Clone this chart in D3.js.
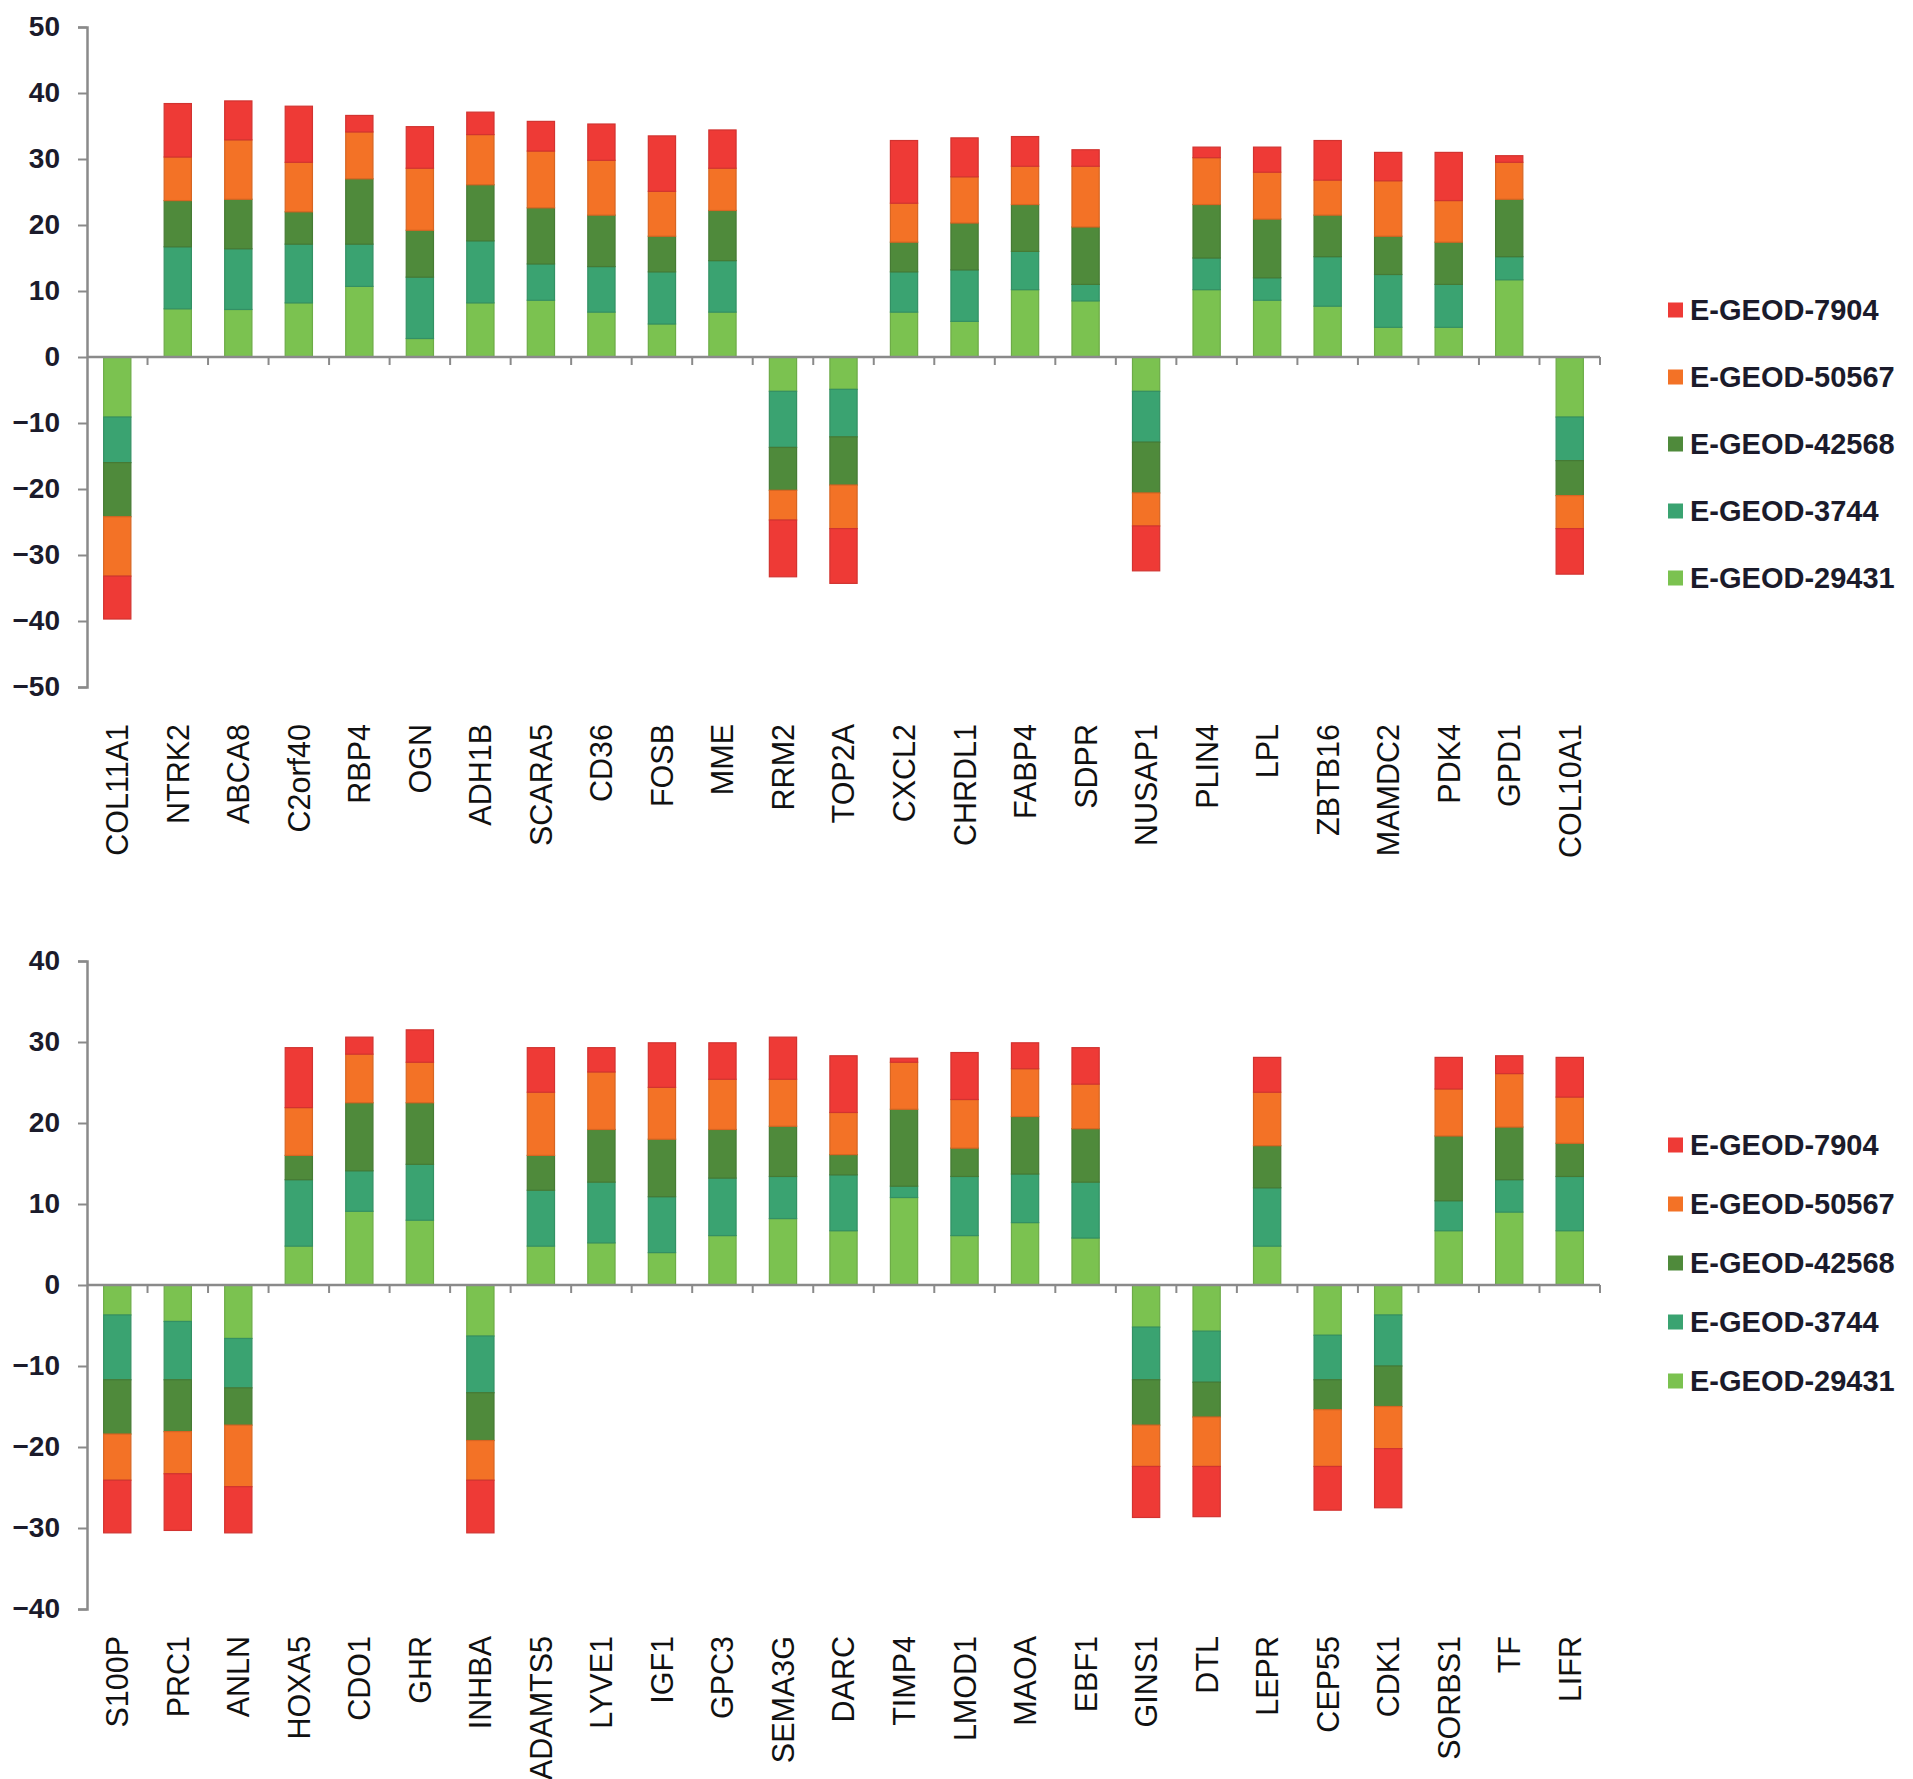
<!DOCTYPE html>
<html><head><meta charset="utf-8">
<script src="https://cdn.jsdelivr.net/npm/d3@7"></script>
<style>body{margin:0;background:#fff}svg{display:block}</style>
</head><body>
<svg id="c" width="1913" height="1779"></svg>
<script>
// ---- data ----
const seriesKeys = ["E-GEOD-29431","E-GEOD-3744","E-GEOD-42568","E-GEOD-50567","E-GEOD-7904"];
const legendOrder = ["E-GEOD-7904","E-GEOD-50567","E-GEOD-42568","E-GEOD-3744","E-GEOD-29431"];

const topGenes = ["COL11A1","NTRK2","ABCA8","C2orf40","RBP4","OGN","ADH1B","SCARA5","CD36","FOSB","MME","RRM2","TOP2A","CXCL2","CHRDL1","FABP4","SDPR","NUSAP1","PLIN4","LPL","ZBTB16","MAMDC2","PDK4","GPD1","COL10A1"];
const top29431 = [-9.1,7.3,7.2,8.2,10.7,2.8,8.2,8.6,6.8,5.0,6.8,-5.2,-4.9,6.8,5.4,10.2,8.5,-5.2,10.2,8.6,7.7,4.5,4.5,11.7,-9.1];
const top3744  = [-6.9,9.4,9.2,8.9,6.4,9.3,9.4,5.5,6.9,7.9,7.8,-8.5,-7.2,6.1,7.8,5.8,2.5,-7.7,4.8,3.4,7.5,8.0,6.5,3.5,-6.6];
const top42568 = [-8.2,7.0,7.5,4.9,9.9,7.1,8.5,8.5,7.8,5.4,7.6,-6.5,-7.3,4.5,7.1,7.1,8.7,-7.7,8.1,8.9,6.3,5.8,6.4,8.7,-5.3];
const top50567 = [-9.0,6.6,9.0,7.5,7.1,9.4,7.6,8.6,8.3,6.8,6.4,-4.5,-6.6,5.9,7.0,5.8,9.2,-5.0,7.1,7.1,5.3,8.4,6.3,5.6,-5.0];
const top7904  = [-6.5,8.1,5.9,8.5,2.5,6.3,3.4,4.5,5.5,8.4,5.8,-8.6,-8.3,9.5,5.9,4.5,2.5,-6.8,1.6,3.8,6.0,4.3,7.3,1.0,-6.9];
const topTicks = [50,40,30,20,10,0,-10,-20,-30,-40,-50];

const botGenes = ["S100P","PRC1","ANLN","HOXA5","CDO1","GHR","INHBA","ADAMTS5","LYVE1","IGF1","GPC3","SEMA3G","DARC","TIMP4","LMOD1","MAOA","EBF1","GINS1","DTL","LEPR","CEP55","CDK1","SORBS1","TF","LIFR"];
const bot29431 = [-3.7,-4.5,-6.6,4.8,9.1,8.0,-6.3,4.8,5.2,4.0,6.1,8.2,6.7,10.8,6.1,7.7,5.8,-5.2,-5.7,4.8,-6.2,-3.7,6.7,9.0,6.7];
const bot3744  = [-8.0,-7.2,-6.1,8.2,5.0,6.9,-7.0,6.9,7.5,6.9,7.1,5.2,6.9,1.4,7.3,6.0,6.9,-6.5,-6.3,7.2,-5.5,-6.3,3.7,4.0,6.7];
const bot42568 = [-6.7,-6.4,-4.6,3.0,8.4,7.6,-5.9,4.3,6.5,7.1,6.0,6.2,2.5,9.5,3.5,7.1,6.6,-5.6,-4.3,5.2,-3.7,-5.0,8.0,6.5,4.1];
const bot50567 = [-5.7,-5.2,-7.6,5.9,6.0,5.0,-4.9,7.8,7.1,6.4,6.2,5.8,5.2,5.8,6.0,5.9,5.5,-5.1,-6.1,6.6,-7.0,-5.2,5.8,6.6,5.7];
const bot7904  = [-6.5,-7.0,-5.7,7.4,2.1,4.0,-6.5,5.5,3.0,5.5,4.5,5.2,7.0,0.5,5.8,3.2,4.5,-6.3,-6.2,4.3,-5.4,-7.3,3.9,2.2,4.9];
const botTicks = [40,30,20,10,0,-10,-20,-30,-40];

const colors = {
  "E-GEOD-7904":"#ee3a36",
  "E-GEOD-50567":"#f37226",
  "E-GEOD-42568":"#4f8a3b",
  "E-GEOD-3744":"#3aa371",
  "E-GEOD-29431":"#7bc250"
};

function buildRows(genes, arrs){
  return genes.map((g,i)=>{
    const r = {gene:g};
    seriesKeys.forEach((k,j)=>{ r[k]=arrs[j][i]; });
    return r;
  });
}

const svg = d3.select("#c");

function drawChart(cfg){
  const rows = buildRows(cfg.genes, cfg.arrs);
  const x = d3.scaleBand().domain(cfg.genes).range([cfg.x0, cfg.x1]).padding(0);
  const y = d3.scaleLinear().domain(cfg.domain).range([cfg.yBottom, cfg.yTop]);
  const stack = d3.stack().keys(seriesKeys).offset(d3.stackOffsetDiverging);
  const layers = stack(rows);
  const barW = x.bandwidth()*0.45;
  const g = svg.append("g");

  // bars
  layers.forEach(layer=>{
    const c = colors[layer.key];
    g.append("g").selectAll("rect").data(layer).join("rect")
      .attr("x", d=> x(d.data.gene) + (x.bandwidth()-barW)/2)
      .attr("y", d=> y(Math.max(d[0],d[1])))
      .attr("width", barW)
      .attr("height", d=> Math.abs(y(d[0])-y(d[1])))
      .attr("fill", c)
      .attr("stroke", d3.color(c).darker(0.35))
      .attr("stroke-width", 1.2);
  });

  // y axis
  const yAxis = d3.axisLeft(y).tickValues(cfg.ticks).tickSize(9).tickPadding(18).tickFormat(d3.format("d"));
  const ya = g.append("g").attr("transform",`translate(${cfg.x0},0)`).call(yAxis);
  ya.select(".domain").attr("stroke","#8a8a8a").attr("stroke-width",2.5);
  ya.selectAll(".tick line").attr("stroke","#8a8a8a").attr("stroke-width",2);
  ya.selectAll(".tick text").attr("font-family","'Liberation Sans', Arial, sans-serif")
    .attr("font-size",28).attr("font-weight","bold").attr("fill","#1b1b2b");

  // x axis line at zero with ticks at category boundaries
  const y0 = y(0);
  g.append("line").attr("x1",cfg.x0).attr("x2",cfg.x1).attr("y1",y0).attr("y2",y0)
    .attr("stroke","#8a8a8a").attr("stroke-width",2.5);
  const bounds = cfg.genes.map(gn=>x(gn)+x.bandwidth());
  g.append("g").selectAll("line").data(bounds).join("line")
    .attr("x1",d=>d).attr("x2",d=>d).attr("y1",y0).attr("y2",y0+8)
    .attr("stroke","#8a8a8a").attr("stroke-width",2);

  // category labels
  g.append("g").selectAll("text").data(cfg.genes).join("text")
    .attr("transform", d=>`translate(${x(d)+x.bandwidth()/2},${cfg.labelY}) rotate(-90)`)
    .attr("text-anchor","end").attr("dy","0.36em")
    .attr("font-family","'Liberation Sans', Arial, sans-serif")
    .attr("font-size",30.5).attr("fill","#111")
    .text(d=>d);

  // legend
  const lg = g.append("g");
  legendOrder.forEach((k,i)=>{
    const cy = cfg.legY + i*cfg.legStep;
    lg.append("rect").attr("x",1668).attr("y",cy-7.5).attr("width",15).attr("height",15)
      .attr("fill",colors[k]);
    lg.append("text").attr("x",1690).attr("y",cy).attr("dy","0.36em")
      .attr("font-family","'Liberation Sans', Arial, sans-serif")
      .attr("font-size",29).attr("font-weight","bold").attr("fill","#1b1b2b")
      .text(k);
  });
}

drawChart({genes:topGenes, arrs:[top29431,top3744,top42568,top50567,top7904],
  domain:[-50,50], ticks:topTicks, x0:87, x1:1600, yTop:27, yBottom:687,
  labelY:724, legY:310, legStep:67});

drawChart({genes:botGenes, arrs:[bot29431,bot3744,bot42568,bot50567,bot7904],
  domain:[-40,40], ticks:botTicks, x0:87, x1:1600, yTop:961, yBottom:1609,
  labelY:1636, legY:1145, legStep:59});
</script>
</body></html>
